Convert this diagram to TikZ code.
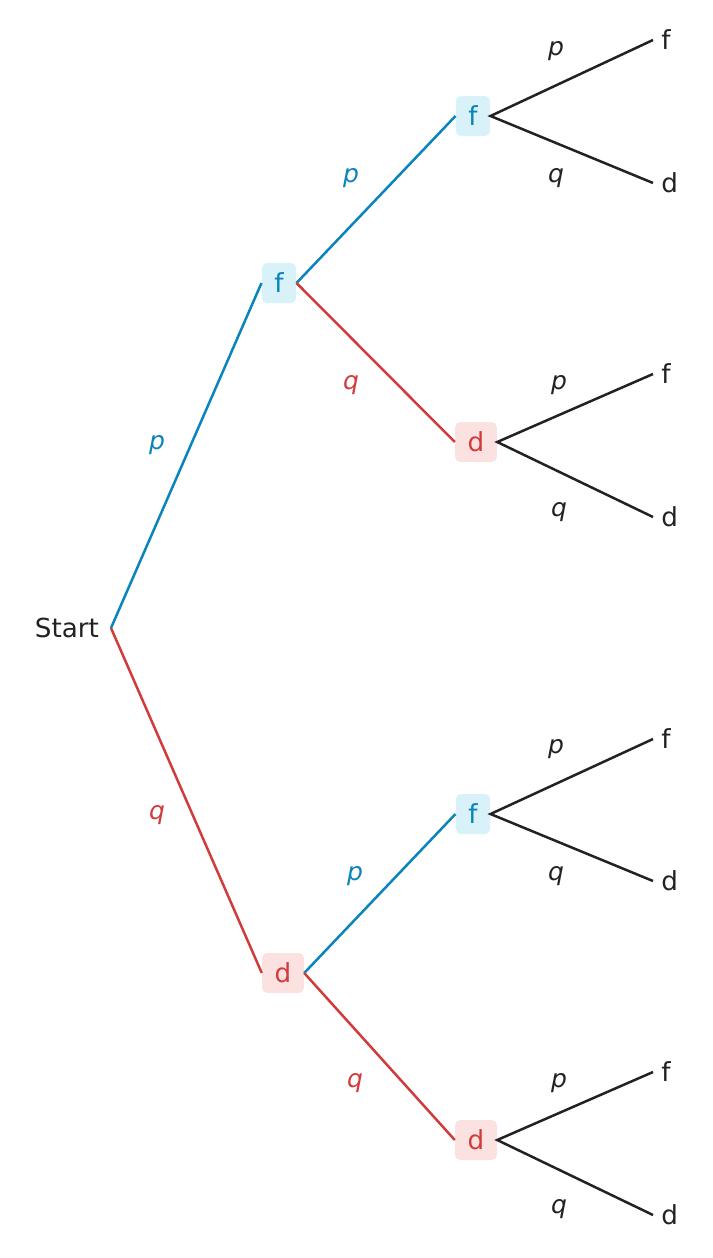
\documentclass[tikz,border=0pt]{standalone}
\usepackage{fontspec}
\setmainfont{DejaVu Sans}
\usetikzlibrary{calc}
\definecolor{fblue}{HTML}{0A84BC}
\definecolor{fbluebg}{HTML}{D9F1F8}
\definecolor{dred}{HTML}{D23B3B}
\definecolor{dredbg}{HTML}{FCE1E1}
\definecolor{ink}{HTML}{222222}
\tikzset{
  fbox/.style={fill=fbluebg, text=fblue, rounded corners=2.5pt, inner xsep=6.25pt, minimum height=20pt},
  dbox/.style={fill=dredbg, text=dred, rounded corners=2.5pt, inner xsep=6.25pt, minimum height=20pt},
  leaf/.style={text=ink, inner sep=4pt},
  prob/.style={font=\fontsize{12.5}{15}\selectfont\itshape},
  branch/.style={line width=1.25pt}
}
\begin{document}
\begin{tikzpicture}[x=0.5pt, y=-0.5pt, font=\fontsize{13.1}{15}\selectfont]
			%%%%% START %%%%%
			\useasboundingbox (0, 0) rectangle (712, 1258);
			
			\node[text=ink, anchor=east] (start) at (106, 628) {Start};
			
			\node[fbox] (f1) at (279, 283) {f};
			\node[dbox] (d1) at (283, 973) {d};
			
			\node[fbox] (ff) at (473, 116) {f};
			\node[dbox] (fd) at (476, 442) {d};
			\node[fbox] (df) at (473, 814) {f};
			\node[dbox] (dd) at (476, 1140) {d};
			
			\node[leaf, anchor=west] (fff) at (653, 40) {f};
			\node[leaf, anchor=west] (ffd) at (653, 183) {d};
			\node[leaf, anchor=west] (fdf) at (653, 374) {f};
			\node[leaf, anchor=west] (fdd) at (653, 517) {d};
			\node[leaf, anchor=west] (dff) at (653, 739) {f};
			\node[leaf, anchor=west] (dfd) at (653, 881) {d};
			\node[leaf, anchor=west] (ddf) at (653, 1072) {f};
			\node[leaf, anchor=west] (ddd) at (653, 1215) {d};
			
			\draw[branch, fblue] ($(start.east)+(5,0)$) -- (f1.west);
			\draw[branch, dred] ($(start.east)+(5,0)$) -- (d1.west);
			\draw[branch, fblue] (f1.east) -- (ff.west);
			\draw[branch, dred] (f1.east) -- (fd.west);
			\draw[branch, fblue] (d1.east) -- (df.west);
			\draw[branch, dred] (d1.east) -- (dd.west);
			
			\draw[branch, ink] (fff.west) -- (ff.east) -- (ffd.west);
			\draw[branch, ink] (fdf.west) -- (fd.east) -- (fdd.west);
			\draw[branch, ink] (dff.west) -- (df.east) -- (dfd.west);
			\draw[branch, ink] (ddf.west) -- (dd.east) -- (ddd.west);
			
			\node[prob, fblue] (p1) at (157, 445) {p};
			\node[prob, dred] (q1) at (157, 815) {q};
			\node[prob, fblue] (p2) at (351, 178) {p};
			\node[prob, dred] (q2) at (351, 385) {q};
			\node[prob, fblue] (p3) at (355, 876) {p};
			\node[prob, dred] (q3) at (355, 1083) {q};
			
			\node[prob, ink] (pff) at (556, 51) {p};
			\node[prob, ink] (qff) at (556, 178) {q};
			\node[prob, ink] (pfd) at (559, 385) {p};
			\node[prob, ink] (qfd) at (559, 512) {q};
			\node[prob, ink] (pdf) at (556, 749) {p};
			\node[prob, ink] (qdf) at (556, 876) {q};
			\node[prob, ink] (pdd) at (559, 1083) {p};
			\node[prob, ink] (qdd) at (559, 1209) {q};
			
			%%%%% END %%%%%
\end{tikzpicture}
\end{document}
